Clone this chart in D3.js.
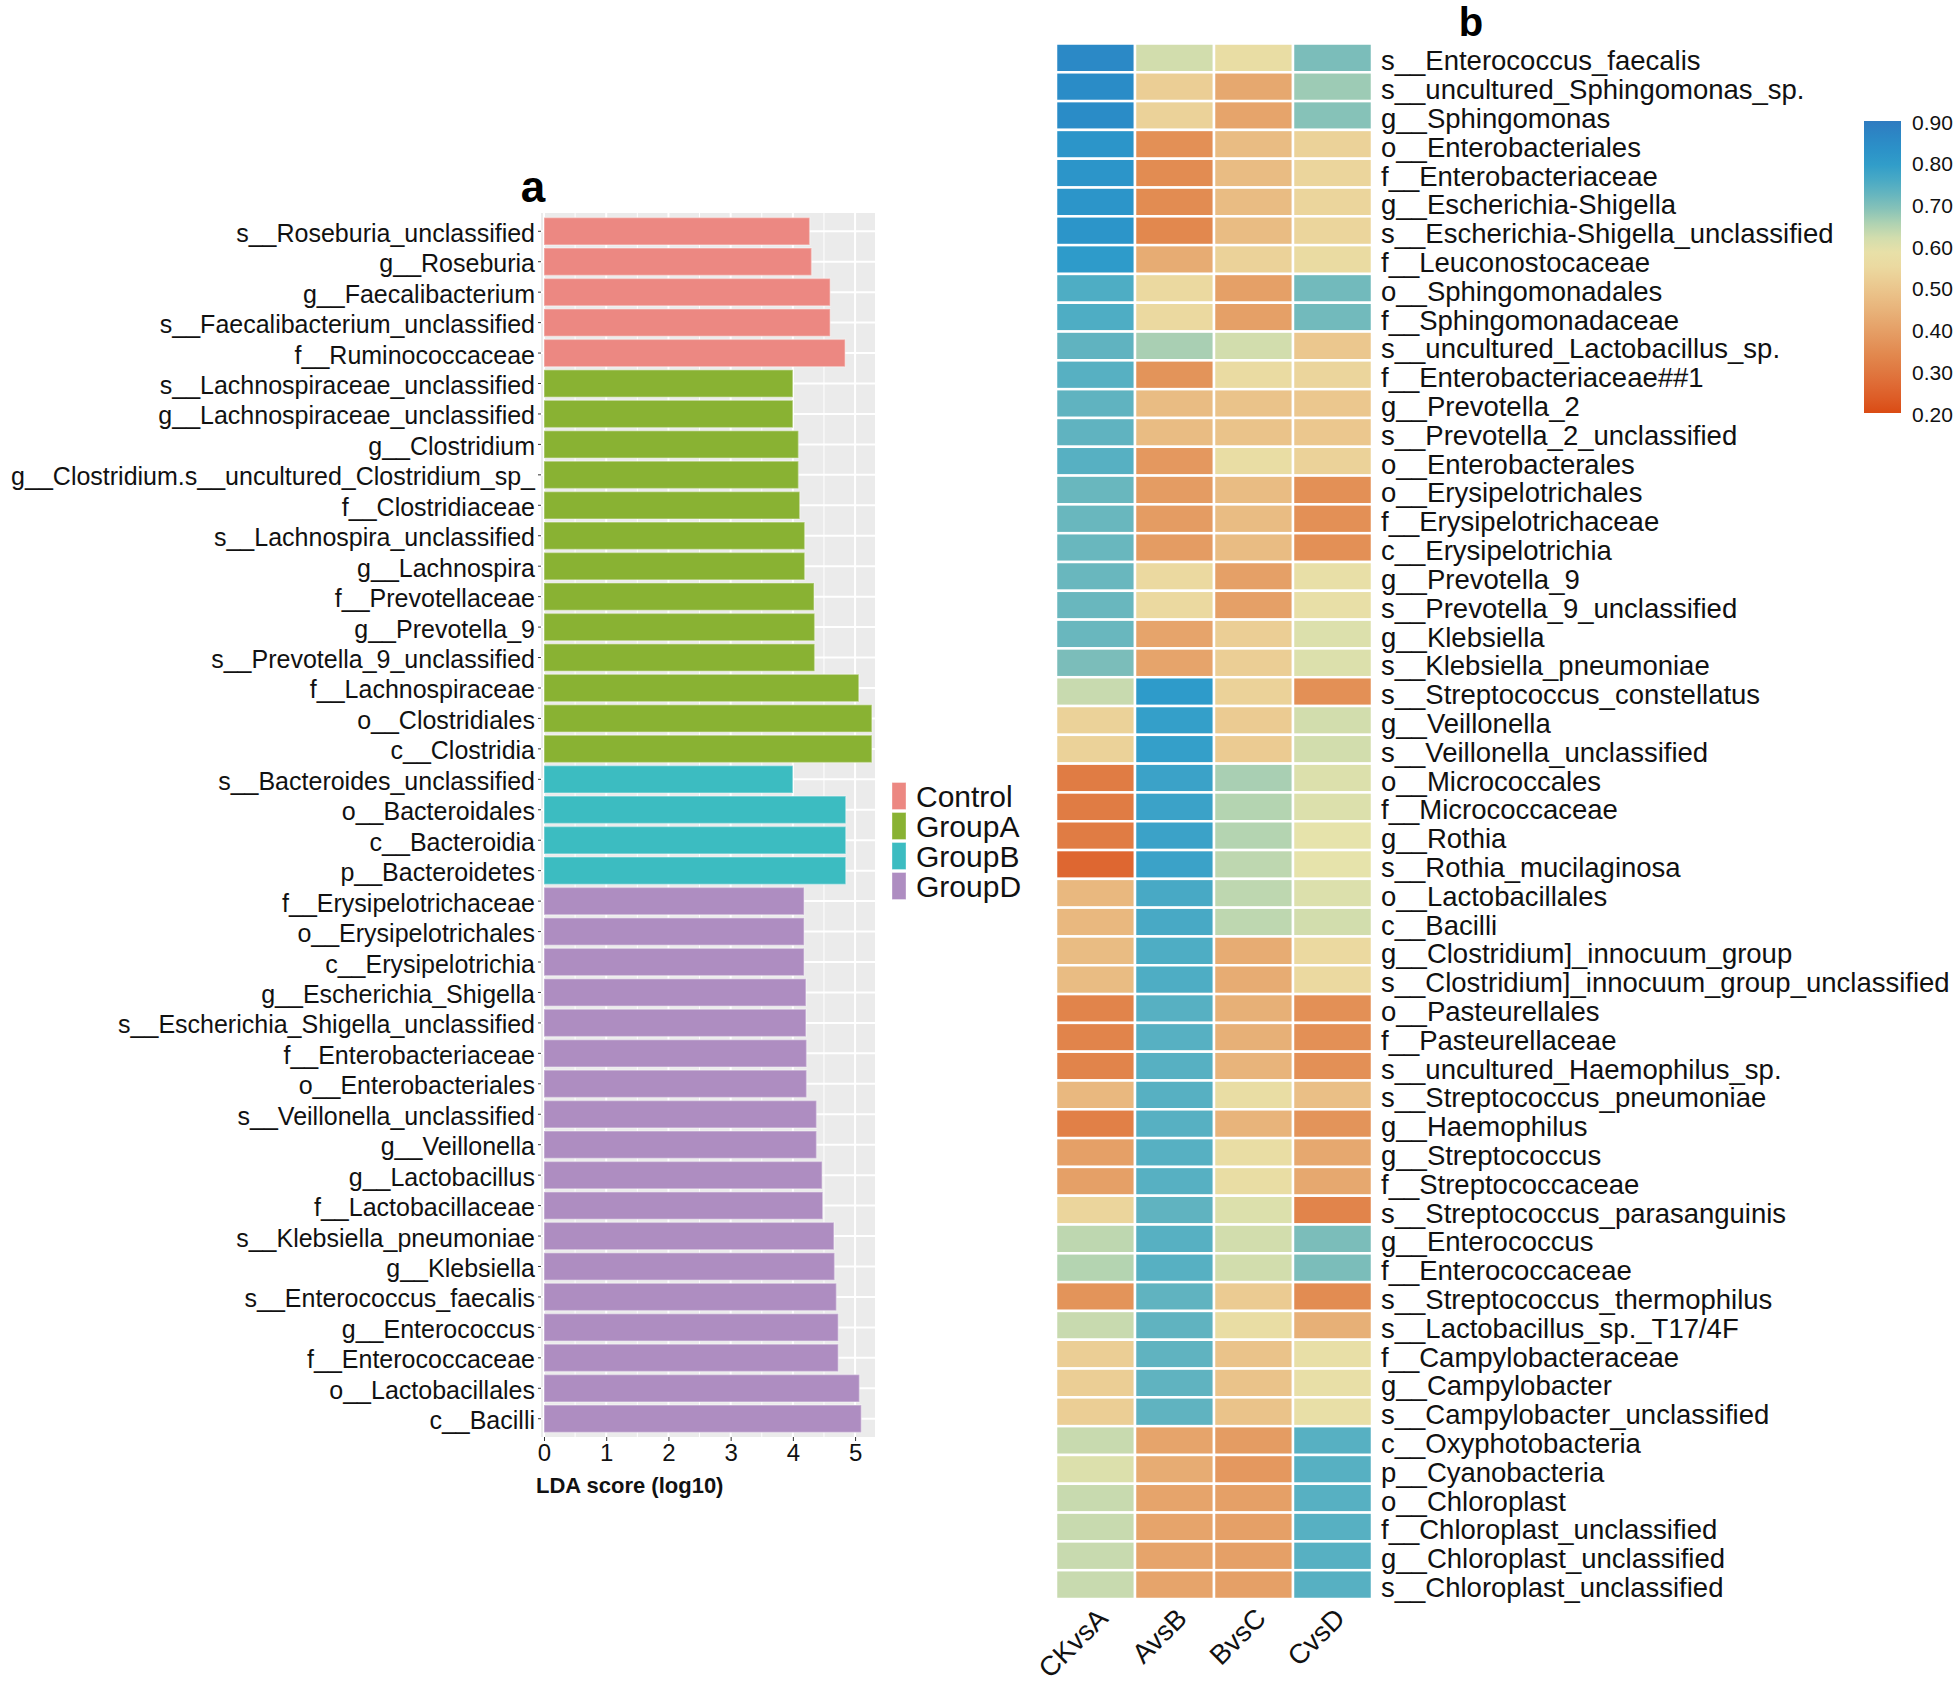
<!DOCTYPE html>
<html>
<head>
<meta charset="utf-8">
<script src="https://cdn.jsdelivr.net/npm/d3@7"></script>
<style>
  html, body { margin: 0; padding: 0; background: #fff; }
  svg { display: block; font-family: "Liberation Sans", Arial, Helvetica, sans-serif; }
</style>
</head>
<body>
<svg id="chart" width="1960" height="1686"></svg>
<script>
// ---------------- Panel a data ----------------
const ldaLabels = [
  "s__Roseburia_unclassified","g__Roseburia","g__Faecalibacterium","s__Faecalibacterium_unclassified","f__Ruminococcaceae",
  "s__Lachnospiraceae_unclassified","g__Lachnospiraceae_unclassified","g__Clostridium","g__Clostridium.s__uncultured_Clostridium_sp_",
  "f__Clostridiaceae","s__Lachnospira_unclassified","g__Lachnospira","f__Prevotellaceae","g__Prevotella_9","s__Prevotella_9_unclassified",
  "f__Lachnospiraceae","o__Clostridiales","c__Clostridia",
  "s__Bacteroides_unclassified","o__Bacteroidales","c__Bacteroidia","p__Bacteroidetes",
  "f__Erysipelotrichaceae","o__Erysipelotrichales","c__Erysipelotrichia","g__Escherichia_Shigella","s__Escherichia_Shigella_unclassified",
  "f__Enterobacteriaceae","o__Enterobacteriales","s__Veillonella_unclassified","g__Veillonella","g__Lactobacillus","f__Lactobacillaceae",
  "s__Klebsiella_pneumoniae","g__Klebsiella","s__Enterococcus_faecalis","g__Enterococcus","f__Enterococcaceae","o__Lactobacillales","c__Bacilli"
];
const ldaValues = [
  4.27, 4.30, 4.60, 4.60, 4.84,
  4.00, 4.00, 4.09, 4.09,
  4.11, 4.19, 4.19, 4.34, 4.35, 4.35,
  5.06, 5.27, 5.27,
  4.00, 4.85, 4.85, 4.85,
  4.18, 4.18, 4.18, 4.21, 4.21,
  4.22, 4.22, 4.38, 4.38, 4.47, 4.48,
  4.66, 4.67, 4.70, 4.73, 4.73, 5.07, 5.10
];
const ldaGroups = [
  "Control","Control","Control","Control","Control",
  "GroupA","GroupA","GroupA","GroupA","GroupA","GroupA","GroupA","GroupA","GroupA","GroupA","GroupA","GroupA","GroupA",
  "GroupB","GroupB","GroupB","GroupB",
  "GroupD","GroupD","GroupD","GroupD","GroupD","GroupD","GroupD","GroupD","GroupD","GroupD","GroupD","GroupD","GroupD","GroupD","GroupD","GroupD","GroupD","GroupD"
];
const groupNames = ["Control","GroupA","GroupB","GroupD"];
const groupColors = ["#EC8882","#89B233","#3CBCC1","#AE8DC1"];
const ldaTicks = [0,1,2,3,4,5];

// ---------------- Panel b data ----------------
const heatRows = [
  "s__Enterococcus_faecalis","s__uncultured_Sphingomonas_sp.","g__Sphingomonas","o__Enterobacteriales","f__Enterobacteriaceae",
  "g__Escherichia-Shigella","s__Escherichia-Shigella_unclassified","f__Leuconostocaceae","o__Sphingomonadales","f__Sphingomonadaceae",
  "s__uncultured_Lactobacillus_sp.","f__Enterobacteriaceae##1","g__Prevotella_2","s__Prevotella_2_unclassified","o__Enterobacterales",
  "o__Erysipelotrichales","f__Erysipelotrichaceae","c__Erysipelotrichia","g__Prevotella_9","s__Prevotella_9_unclassified",
  "g__Klebsiella","s__Klebsiella_pneumoniae","s__Streptococcus_constellatus","g__Veillonella","s__Veillonella_unclassified",
  "o__Micrococcales","f__Micrococcaceae","g__Rothia","s__Rothia_mucilaginosa","o__Lactobacillales",
  "c__Bacilli","g__Clostridium]_innocuum_group","s__Clostridium]_innocuum_group_unclassified","o__Pasteurellales","f__Pasteurellaceae",
  "s__uncultured_Haemophilus_sp.","s__Streptococcus_pneumoniae","g__Haemophilus","g__Streptococcus","f__Streptococcaceae",
  "s__Streptococcus_parasanguinis","g__Enterococcus","f__Enterococcaceae","s__Streptococcus_thermophilus","s__Lactobacillus_sp._T17/4F",
  "f__Campylobacteraceae","g__Campylobacter","s__Campylobacter_unclassified","c__Oxyphotobacteria","p__Cyanobacteria",
  "o__Chloroplast","f__Chloroplast_unclassified","g__Chloroplast_unclassified","s__Chloroplast_unclassified"
];
const heatCols = ["CKvsA","AvsB","BvsC","CvsD"];
const valCKvsA = [
  0.86,0.85,0.85,0.82,0.82, 0.82,0.82,0.80,0.75,0.75,
  0.73,0.74,0.73,0.73,0.74, 0.72,0.72,0.72,0.72,0.72,
  0.72,0.70,0.63,0.53,0.53, 0.31,0.31,0.31,0.26,0.46,
  0.46,0.47,0.47,0.33,0.33, 0.33,0.46,0.32,0.40,0.40,
  0.54,0.64,0.65,0.37,0.63, 0.52,0.52,0.52,0.63,0.61,
  0.63,0.63,0.63,0.63
];
const valAvsB = [
  0.62,0.52,0.53,0.36,0.35, 0.35,0.34,0.43,0.55,0.55,
  0.66,0.37,0.47,0.47,0.38, 0.39,0.39,0.39,0.55,0.55,
  0.41,0.41,0.80,0.79,0.79, 0.78,0.78,0.78,0.78,0.76,
  0.76,0.75,0.75,0.74,0.74, 0.74,0.74,0.74,0.74,0.74,
  0.73,0.74,0.74,0.73,0.73, 0.73,0.73,0.73,0.41,0.43,
  0.41,0.41,0.41,0.41
];
const valBvsC = [
  0.57,0.42,0.41,0.47,0.47, 0.47,0.47,0.53,0.40,0.40,
  0.62,0.56,0.49,0.49,0.57, 0.47,0.47,0.47,0.40,0.40,
  0.52,0.52,0.53,0.51,0.51, 0.66,0.65,0.65,0.64,0.64,
  0.64,0.43,0.43,0.44,0.44, 0.45,0.57,0.45,0.57,0.57,
  0.61,0.62,0.62,0.51,0.57, 0.49,0.49,0.49,0.39,0.38,
  0.40,0.40,0.40,0.40
];
const valCvsD = [
  0.70,0.67,0.69,0.53,0.54, 0.54,0.54,0.56,0.71,0.71,
  0.50,0.54,0.50,0.50,0.53, 0.36,0.36,0.36,0.58,0.58,
  0.61,0.61,0.36,0.62,0.62, 0.61,0.61,0.60,0.60,0.61,
  0.62,0.55,0.55,0.36,0.36, 0.36,0.48,0.37,0.42,0.42,
  0.33,0.70,0.70,0.35,0.44, 0.58,0.58,0.58,0.74,0.74,
  0.74,0.74,0.74,0.74
];
const colorTicks = [0.2,0.3,0.4,0.5,0.6,0.7,0.8,0.9];

// ---------------- Setup ----------------
const svg = d3.select("#chart");
const FONT = '"Liberation Sans", Arial, Helvetica, sans-serif';

// ================= Panel a =================
const pa = { left: 541, right: 875, top: 213, bottom: 1437 };
const x = d3.scaleLinear().domain([0, 5.32]).range([544, pa.right]);
const y = d3.scaleBand().domain(ldaLabels).range([pa.top, pa.bottom]).paddingInner(0.1).paddingOuter(0.15);
const groupColor = d3.scaleOrdinal().domain(groupNames).range(groupColors);

const gA = svg.append("g");
gA.append("rect").attr("x", pa.left).attr("y", pa.top)
  .attr("width", pa.right - pa.left).attr("height", pa.bottom - pa.top).attr("fill", "#EBEBEB");

// minor vertical grid
const minorTicks = d3.range(0.5, 5.32, 1);
gA.selectAll(".minor").data(minorTicks).join("line")
  .attr("x1", d => x(d)).attr("x2", d => x(d)).attr("y1", pa.top).attr("y2", pa.bottom)
  .attr("stroke", "#fff").attr("stroke-width", 1);
// major vertical grid
gA.selectAll(".majorx").data(ldaTicks).join("line")
  .attr("x1", d => x(d)).attr("x2", d => x(d)).attr("y1", pa.top).attr("y2", pa.bottom)
  .attr("stroke", "#fff").attr("stroke-width", 2);
// horizontal major grid at category centers
gA.selectAll(".majory").data(ldaLabels).join("line")
  .attr("x1", pa.left).attr("x2", pa.right)
  .attr("y1", d => y(d) + y.bandwidth() / 2).attr("y2", d => y(d) + y.bandwidth() / 2)
  .attr("stroke", "#fff").attr("stroke-width", 2);

// bars
gA.selectAll(".bar").data(ldaLabels).join("rect")
  .attr("x", x(0))
  .attr("y", d => y(d))
  .attr("width", (d, i) => x(ldaValues[i]) - x(0))
  .attr("height", y.bandwidth())
  .attr("fill", (d, i) => groupColor(ldaGroups[i]))
  .attr("stroke", "rgba(255,255,255,0.35)").attr("stroke-width", 1.5);

// y axis
const yAxis = d3.axisLeft(y).tickSize(3).tickPadding(3);
const yAx = gA.append("g").attr("transform", `translate(${pa.left},0)`).call(yAxis);
yAx.select(".domain").remove();
yAx.selectAll(".tick line").attr("stroke", "#333");
yAx.selectAll(".tick text").attr("font-family", FONT).attr("font-size", 25).attr("fill", "#111")
  .attr("dy", "0.42em");

// x axis
const xAxis = d3.axisBottom(x).tickValues(ldaTicks).tickFormat(d3.format("d")).tickSize(4).tickPadding(3);
const xAx = gA.append("g").attr("transform", `translate(0,${pa.bottom})`).call(xAxis);
xAx.select(".domain").remove();
xAx.selectAll(".tick line").attr("stroke", "#333");
xAx.selectAll(".tick text").attr("font-family", FONT).attr("font-size", 24).attr("fill", "#111");

gA.append("text").attr("x", 536).attr("y", 1493)
  .attr("font-family", FONT).attr("font-size", 22).attr("font-weight", "bold").attr("fill", "#111")
  .text("LDA score (log10)");

gA.append("text").attr("x", 533).attr("y", 202).attr("text-anchor", "middle")
  .attr("font-family", FONT).attr("font-size", 44).attr("font-weight", "bold").attr("fill", "#000")
  .text("a");

// legend
const leg = gA.append("g");
groupNames.forEach((g, i) => {
  const cy = 796 + i * 30;
  leg.append("rect").attr("x", 892).attr("y", cy - 13.5).attr("width", 14).attr("height", 27)
    .attr("fill", groupColors[i]).attr("stroke", "rgba(255,255,255,0.35)").attr("stroke-width", 1);
  leg.append("text").attr("x", 916).attr("y", cy).attr("dominant-baseline", "central")
    .attr("font-family", FONT).attr("font-size", 30).attr("fill", "#111").text(g);
});

// ================= Panel b =================
const pb = { left: 1056, right: 1372, top: 43.5, bottom: 1599 };
const hx = d3.scaleBand().domain(heatCols).range([pb.left, pb.right]);
const hy = d3.scaleBand().domain(heatRows).range([pb.top, pb.bottom]);
const colorScale = d3.scaleLinear()
  .domain([0.20, 0.25, 0.30, 0.35, 0.40, 0.45, 0.50, 0.55, 0.60, 0.65, 0.70, 0.75, 0.80, 0.85, 0.90])
  .range(["#DA4B14","#DE632D","#E07840","#E28C52","#E5A067","#E8B47B","#EBC78E","#EBD9A0","#E6E3AB",
          "#B4D4B1","#7BBDBA","#4EADC4","#2E9BCA","#2A8CC7","#2F7BC0"])
  .clamp(true);

const cols = [valCKvsA, valAvsB, valBvsC, valCvsD];
const cells = [];
heatRows.forEach((r, i) => heatCols.forEach((c, j) => cells.push({ r, c, v: cols[j][i] })));

const gB = svg.append("g");
gB.selectAll(".cell").data(cells).join("rect")
  .attr("x", d => hx(d.c)).attr("y", d => hy(d.r))
  .attr("width", hx.bandwidth()).attr("height", hy.bandwidth())
  .attr("fill", d => colorScale(d.v))
  .attr("stroke", "#fff").attr("stroke-width", 2.5);

// row labels
gB.selectAll(".rlab").data(heatRows).join("text")
  .attr("x", pb.right + 9).attr("y", d => hy(d) + hy.bandwidth() / 2 + 3)
  .attr("dominant-baseline", "central")
  .attr("font-family", FONT).attr("font-size", 27.5).attr("fill", "#111")
  .text(d => d);

// column labels
gB.selectAll(".clab").data(heatCols).join("text")
  .attr("transform", d => `translate(${hx(d) + hx.bandwidth() / 2 + 14},${pb.bottom + 21}) rotate(-45)`)
  .attr("text-anchor", "end")
  .attr("font-family", FONT).attr("font-size", 27.5).attr("fill", "#111")
  .text(d => d);

gB.append("text").attr("x", 1471).attr("y", 36).attr("text-anchor", "middle")
  .attr("font-family", FONT).attr("font-size", 40).attr("font-weight", "bold").attr("fill", "#000")
  .text("b");

// color bar
const cb = { x: 1864, w: 37, top: 121, bottom: 413 };
const cby = d3.scaleLinear().domain([0.2, 0.9]).range([cb.bottom, cb.top]);
const defs = svg.append("defs");
const grad = defs.append("linearGradient").attr("id", "cbgrad")
  .attr("x1", 0).attr("y1", 1).attr("x2", 0).attr("y2", 0);
d3.range(0, 1.0001, 0.05).forEach(t => {
  const v = 0.2 + t * 0.7;
  grad.append("stop").attr("offset", t).attr("stop-color", colorScale(v));
});
gB.append("rect").attr("x", cb.x).attr("y", cb.top).attr("width", cb.w).attr("height", cb.bottom - cb.top)
  .attr("fill", "url(#cbgrad)");
gB.selectAll(".cbt").data(colorTicks).join("text")
  .attr("x", cb.x + cb.w + 11).attr("y", d => cby(d) + 1)
  .attr("dominant-baseline", "central")
  .attr("font-family", FONT).attr("font-size", 21).attr("fill", "#111")
  .text(d => d3.format(".2f")(d));
</script>
</body>
</html>
